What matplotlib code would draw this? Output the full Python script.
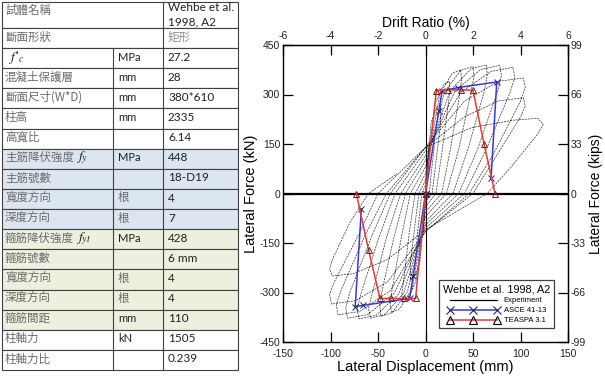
import numpy as np
import matplotlib.pyplot as plt
from matplotlib.lines import Line2D
from matplotlib.patches import Rectangle

plt.rcParams['mathtext.fontset'] = 'stix'
plt.rcParams['font.family'] = ['Liberation Sans', 'DejaVu Sans']
plt.rcParams['axes.unicode_minus'] = False

# ---------- table data ----------
row_names = ['試體名稱', '斷面形狀', '', '混凝土保護層', '斷面尺寸(W*D)', '柱高', '高寬比',
             '主筋降伏強度', '主筋號數', '寬度方向', '深度方向',
             '箍筋降伏強度', '箍筋號數', '寬度方向', '深度方向', '箍筋間距',
             '柱軸力', '柱軸力比']
row_symbols = ['', '', r"$f\,'_c$", '', '', '', '', r'$f_y$', '', '', '',
               r'$f_{yt}$', '', '', '', '', '', '']
row_units = ['', '', 'MPa', 'mm', 'mm', 'mm', '', 'MPa', '', '根', '根',
             'MPa', '', '根', '根', 'mm', 'kN', '']
row_values = ['Wehbe et al.\n1998, A2', '矩形', '27.2', '28', '380*610', '2335', '6.14',
              '448', '18-D19', '4', '7', '428', '6 mm', '4', '4', '110', '1505', '0.239']
row_group = ['', '', '', '', '', '', '', 'long', 'long', 'long', 'long',
             'hoop', 'hoop', 'hoop', 'hoop', 'hoop', '', '']

# ---------- test data (Wehbe et al. 1998, A2) ----------
exp_disp = [0,
            0, 4, 7, 9, 9, 6, 4, 0, -4, -7, -9, -9, -6, -4,
            0, 6, 12, 16, 16, 11, 7, 0, -6, -12, -16, -16, -11, -7,
            0, 10, 19, 25, 26, 24, 17, 11, 0, -10, -18, -24, -25, -23, -17, -11,
            0, 15, 28, 37, 38, 36, 26, 17, 0, -14, -27, -36, -37, -35, -25, -16,
            0, 20, 37, 50, 51, 48, 35, 22, 0, -19, -35, -47, -48, -46, -33, -21,
            0, 26, 48, 64, 65, 62, 45, 29, 0, -23, -43, -58, -60, -56, -41, -26,
            0, 31, 58, 78, 80, 76, 55, 35, 0, -28, -52, -70, -72, -68, -49, -32,
            0, 37, 69, 92, 94, 89, 64, 41, 0, -33, -61, -82, -84, -80, -57, -37,
            0, 41, 77, 103, 105, 100, 72, 46, 0, -37, -69, -92, -94, -89, -64, -41,
            0, 41, 77, 103, 105, 100, 72, 50, 0, -40, -74, -99, -101, -96, -69, -50,
            0, 49, 92, 118, 124, 118, 90, 65, 0, -40, -76, -98, -101, -98, -80, -60, -30]
exp_force = [0,
             15, 136, 165, 170, 136, 60, 0, -15, -132, -160, -165, -132, -58, 0,
             25, 216, 262, 270, 216, 95, 0, -25, -210, -254, -262, -210, -92, 0,
             40, 272, 330, 340, 315, 272, 119, 0, -40, -264, -320, -330, -305, -264, -116, 0,
             60, 300, 364, 375, 345, 300, 131, 0, -55, -288, -349, -360, -330, -288, -126, 0,
             80, 308, 373, 385, 355, 308, 135, 0, -70, -298, -361, -372, -342, -298, -130, 0,
             100, 312, 378, 390, 360, 312, 137, 0, -85, -302, -367, -378, -348, -302, -132, 0,
             115, 310, 376, 388, 358, 310, 136, 0, -95, -304, -369, -380, -350, -304, -133, 0,
             130, 306, 370, 382, 352, 306, 134, 0, -105, -302, -367, -378, -348, -302, -132, 0,
             140, 280, 340, 350, 322, 280, 122, 0, -115, -294, -357, -368, -338, -294, -129, 0,
             140, 232, 281, 290, 265, 232, 102, 0, -115, -268, -325, -335, -305, -268, -117, 0,
             140, 200, 222, 228, 210, 180, 80, 0, -110, -200, -243, -250, -230, -200, -90, 0, 60]

# ASCE 41-13 backbone
asce_pos_d = [0, 14, 17.5, 34, 75, 69]
asce_pos_f = [0, 250, 310, 321, 338, 46]
asce_neg_d = [0, -13, -16.8, -66, -74, -67.5]
asce_neg_f = [0, -250, -318, -339, -343, -47]

# TEASPA 3.1 backbone
teaspa_pos_d = [0, 11.4, 24, 37, 50, 61.6, 73.2]
teaspa_pos_f = [0, 312, 314, 314, 313, 150, 0]
teaspa_neg_d = [0, -10.4, -23, -36, -48, -60, -72.8]
teaspa_neg_f = [0, -318, -318, -318, -318, -170, 0]

x_ticks = [-150, -100, -50, 0, 50, 100, 150]
y_ticks = [-450, -300, -150, 0, 150, 300, 450]
drift_ticks = [-6, -4, -2, 0, 2, 4, 6]
kips_ticks = [-99, -66, -33, 0, 33, 66, 99]

BLUE = '#3a3ad0'
RED = '#e03a3a'

fig = plt.figure(figsize=(6.05, 3.76), dpi=100)

# ---------- table ----------
tax = fig.add_axes([0, 0, 240 / 605, 1])
tax.set_xlim(0, 240)
tax.set_ylim(376, 0)
tax.axis('off')

X0, X1, X2, X3 = 1.5, 113, 163, 238
top0 = 1.5
row_h = (370 - 28) / 17
fills = {'': 'white', 'long': '#dce6f1', 'hoop': '#ebf1de'}
cjk = ['Noto Sans CJK TC', 'DejaVu Sans']
latin = ['Lato', 'Noto Sans CJK TC']
GREY_TXT = '#6a6a6a'

for i in range(len(row_names)):
    if i == 0:
        y_top, y_bot = top0, 28
    else:
        y_top, y_bot = 28 + (i - 1) * row_h, 28 + i * row_h
    tax.add_patch(Rectangle((X0, y_top), X3 - X0, y_bot - y_top,
                            facecolor=fills[row_group[i]], edgecolor='#404040', lw=0.8))
    if i >= 2:
        tax.plot([X1, X1], [y_top, y_bot], color='#404040', lw=0.8)
    tax.plot([X2, X2], [y_top, y_bot], color='#404040', lw=0.8)
    yc = (y_top + y_bot) / 2 - 1
    if i == 0:
        tax.text(5, 10, row_names[i], family=cjk, fontsize=8.3, color=GREY_TXT, va='center')
        tax.text(168, 15, row_values[i], family=latin, fontsize=8.5, color='#202020',
                 va='center', linespacing=1.35)
        continue
    if row_names[i]:
        tax.text(5, yc, row_names[i], family=cjk, fontsize=8.3, color=GREY_TXT, va='center')
    if row_symbols[i]:
        xs = 8 if not row_names[i] else 5 + 11.6 * len(row_names[i]) + 1
        tax.text(xs, yc, row_symbols[i], fontsize=10, color='#202020', va='center')
    if row_units[i]:
        is_cjk = row_units[i] == '根'
        tax.text(118, yc, row_units[i], family=cjk if is_cjk else latin,
                 fontsize=8.3 if is_cjk else 8, color=GREY_TXT if is_cjk else '#202020',
                 va='center')
    is_cjk = row_values[i] == '矩形'
    tax.text(168, yc, row_values[i], family=cjk if is_cjk else latin,
             fontsize=8.3 if is_cjk else 8.5, color='#909090' if is_cjk else '#202020',
             va='center')

# ---------- hysteresis chart ----------
ax = fig.add_axes([283 / 605, 1 - 342 / 376, 285 / 605, 297 / 376])
ax.set_xlim(-150, 150)
ax.set_ylim(-450, 450)

ax.axhline(0, color='black', lw=1.6, zorder=1)
ax.axvline(0, color='black', lw=0.8, zorder=1)

ax.plot(exp_disp, exp_force, color='#333333', lw=0.5, ls=(0, (3, 1.3)), zorder=2)

ax.plot(asce_pos_d, asce_pos_f, color=BLUE, lw=1.1, marker='x', ms=4,
        mec='#20206a', mew=0.7, zorder=3)
ax.plot(asce_neg_d, asce_neg_f, color=BLUE, lw=1.1, marker='x', ms=4,
        mec='#20206a', mew=0.7, zorder=3)
ax.plot(teaspa_pos_d, teaspa_pos_f, color=RED, lw=1.1, marker='^', ms=4,
        mfc='none', mec='#702020', mew=0.7, zorder=4)
ax.plot(teaspa_neg_d, teaspa_neg_f, color=RED, lw=1.1, marker='^', ms=4,
        mfc='none', mec='#702020', mew=0.7, zorder=4)

ax.set_xticks(x_ticks)
ax.set_yticks(y_ticks)
ax.tick_params(axis='y', direction='in', length=7, width=0.9, labelsize=7.5, pad=2,
               labelcolor='#222222')
ax.tick_params(axis='x', direction='in', length=7, width=0.9, labelsize=7.5, pad=5,
               labelcolor='#222222')
for s in ax.spines.values():
    s.set_linewidth(1.0)

ax.set_xlabel('Lateral Displacement (mm)', fontsize=10.5, labelpad=1)
ax.set_ylabel('Lateral Force (kN)', fontsize=10.5, labelpad=1)

top = ax.secondary_xaxis('top', functions=(lambda d: d / 25.0, lambda r: r * 25.0))
top.set_xticks(drift_ticks)
top.tick_params(direction='in', length=7, width=0.9, labelsize=7.5, pad=3, labelcolor='#222222')
top.set_xlabel('Drift Ratio (%)', fontsize=10, labelpad=3)

right = ax.secondary_yaxis('right', functions=(lambda f: f * 99.0 / 450.0, lambda k: k * 450.0 / 99.0))
right.set_yticks(kips_ticks)
right.tick_params(direction='in', length=7, width=0.9, labelsize=7.5, pad=2, labelcolor='#222222')
right.set_ylabel('Lateral Force (kips)', fontsize=10, labelpad=2)

handles = [
    Line2D([], [], color='black', lw=0.9),
    Line2D([], [], color=BLUE, lw=1.1, marker='x', ms=6, mec='#20206a', mew=0.8),
    Line2D([], [], color=RED, lw=1.1, marker='^', ms=6, mfc='none', mec='black', mew=0.8),
]
leg = ax.legend(handles, ['Experiment', 'ASCE 41-13', 'TEASPA 3.1'],
                title='Wehbe et al. 1998, A2', title_fontsize=7.8, fontsize=5.5,
                loc='lower right', bbox_to_anchor=(0.965, 0.034), numpoints=3,
                handlelength=6.8, handletextpad=0.6, labelspacing=0.35,
                fancybox=False, framealpha=1, edgecolor='#404040', borderpad=0.5)
leg.get_frame().set_linewidth(0.9)

fig.savefig('out.png', dpi=100, facecolor='white')
